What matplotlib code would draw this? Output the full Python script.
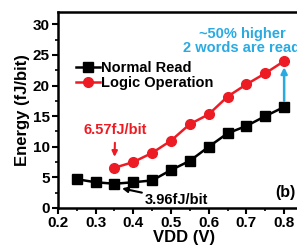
import numpy as np
import matplotlib.pyplot as plt
from matplotlib.ticker import MultipleLocator

# Data
vdd_normal = [0.25, 0.30, 0.35, 0.40, 0.45, 0.50, 0.55, 0.60, 0.65, 0.70, 0.75, 0.80]
e_normal = [4.7, 4.2, 3.96, 4.2, 4.5, 6.2, 7.7, 10.0, 12.2, 13.4, 15.0, 16.5]
vdd_logic = [0.35, 0.40, 0.45, 0.50, 0.55, 0.60, 0.65, 0.70, 0.75, 0.80]
e_logic = [6.57, 7.5, 9.0, 11.0, 13.7, 15.3, 18.2, 20.2, 22.0, 24.0]
x_ticks = [0.2, 0.3, 0.4, 0.5, 0.6, 0.7, 0.8]
y_ticks = [0, 5, 10, 15, 20, 25, 30]

RED = "#ED1C24"
CYAN = "#29ABE2"

plt.rcParams["font.family"] = ["Liberation Sans", "DejaVu Sans"]
plt.rcParams["font.weight"] = "bold"

fig = plt.figure(figsize=(2.97, 2.47), dpi=100)
ax = fig.add_axes([0.195, 0.158, 0.848, 0.793])

ax.plot(vdd_normal, e_normal, "-s", color="black", lw=1.8, ms=6.5, label="Normal Read")
ax.plot(vdd_logic, e_logic, "-o", color=RED, lw=1.8, ms=7, label="Logic Operation")

ax.set_xlim(0.2, 0.868)
ax.set_ylim(0, 32)
ax.set_xticks(x_ticks)
ax.set_yticks(y_ticks)
ax.xaxis.set_minor_locator(MultipleLocator(0.05))
ax.yaxis.set_minor_locator(MultipleLocator(2.5))
ax.set_xticklabels([f"{v:.1f}" for v in x_ticks])
ax.tick_params(which="major", length=4, width=1.5, labelsize=11, pad=2)
ax.tick_params(which="minor", length=2.5, width=1.2)
for s in ax.spines.values():
    s.set_linewidth(1.8)

ax.set_xlabel("VDD (V)", fontsize=12, fontweight="bold", labelpad=0)
ax.set_ylabel("Energy (fJ/bit)", fontsize=12, fontweight="bold", labelpad=2)

ax.legend(loc="upper left", bbox_to_anchor=(0.05, 0.78), frameon=False, fontsize=10.5,
          handlelength=1.6, handletextpad=0.1, labelspacing=0.1, borderaxespad=0)

# annotations
ax.annotate("6.57fJ/bit", xy=(0.35, 7.9), xytext=(0.352, 12.7), color=RED, fontsize=10.5,
            fontweight="bold", ha="center", va="center",
            arrowprops=dict(arrowstyle="-|>", color=RED, lw=1.5, mutation_scale=8))
ax.annotate("3.96fJ/bit", xy=(0.37, 3.2), xytext=(0.43, 1.3), color="black", fontsize=10.5,
            fontweight="bold", ha="left", va="center",
            arrowprops=dict(arrowstyle="-|>", color="black", lw=1.5, mutation_scale=8,
                            shrinkA=0, shrinkB=0))
ax.annotate("", xy=(0.8, 23.0), xytext=(0.8, 17.5),
            arrowprops=dict(arrowstyle="-|>", color=CYAN, lw=1.8, mutation_scale=9,
                            shrinkA=0, shrinkB=0))
ax.text(0.69, 28.5, "~50% higher", color=CYAN, fontsize=10.5, fontweight="bold",
        ha="center", va="center")
ax.text(0.532, 26.1, "2 words are read", color=CYAN, fontsize=10.5, fontweight="bold",
        ha="left", va="center")
ax.text(0.802, 2.6, "(b)", color="black", fontsize=11.5, fontweight="bold",
        ha="center", va="center")

fig.savefig("out.png", dpi=100)
